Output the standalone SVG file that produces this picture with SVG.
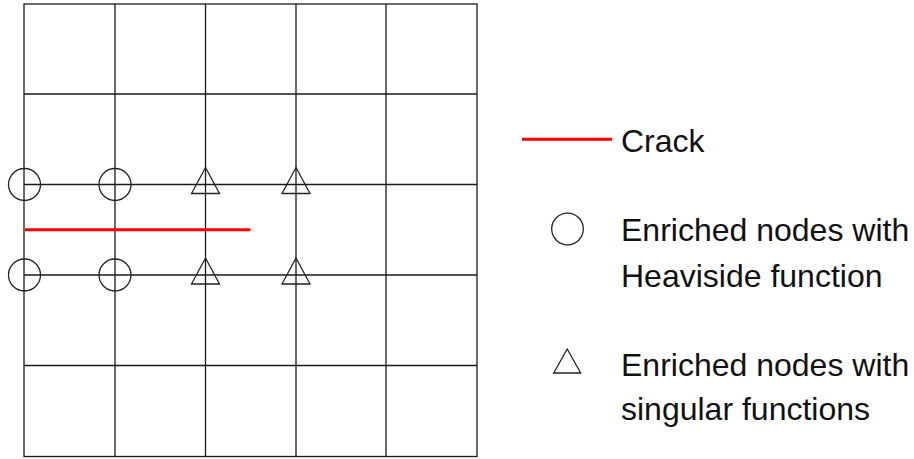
<svg xmlns="http://www.w3.org/2000/svg" width="914" height="459" viewBox="0 0 914 459">
<style>
.g{stroke:#1a1a1a;stroke-width:1.3;fill:none}
.n{stroke:#222;stroke-width:1.3;fill:none}
.crack{stroke:#ff0000;stroke-width:3;fill:none}
.t{font-family:"Liberation Sans","DejaVu Sans",sans-serif;font-size:32px;fill:#111}
</style>
<rect width="914" height="459" fill="#ffffff"/>
<g id="mesh" class="g">
<rect x="24" y="4" width="453" height="452.5"/>
<line x1="115" y1="4" x2="115" y2="456.5"/>
<line x1="205.5" y1="4" x2="205.5" y2="456.5"/>
<line x1="296" y1="4" x2="296" y2="456.5"/>
<line x1="386" y1="4" x2="386" y2="456.5"/>
<line x1="24" y1="94" x2="477" y2="94"/>
<line x1="24" y1="184.5" x2="477" y2="184.5"/>
<line x1="24" y1="275" x2="477" y2="275"/>
<line x1="24" y1="365.5" x2="477" y2="365.5"/>
</g>
<g id="crack">
<line class="crack" x1="25" y1="229.7" x2="250.5" y2="229.7"/>
</g>
<g id="heaviside-nodes" class="n">
<circle cx="24.5" cy="184.5" r="16"/>
<circle cx="115" cy="184.5" r="16"/>
<circle cx="24.5" cy="275" r="16"/>
<circle cx="115" cy="275" r="16"/>
</g>
<g id="singular-nodes" class="n">
<polygon points="205.5,167.5 219.5,193.5 191.5,193.5"/>
<polygon points="296,167.5 310,193.5 282,193.5"/>
<polygon points="205.5,258 219.5,284 191.5,284"/>
<polygon points="296,258 310,284 282,284"/>
</g>
<g id="legend-crack">
<line class="crack" x1="522" y1="139.3" x2="612" y2="139.3"/>
<text class="t" x="621" y="151.5">Crack</text>
</g>
<g id="legend-heaviside">
<circle class="n" cx="567.5" cy="229" r="15.8"/>
<text class="t" x="621" y="241">Enriched nodes with</text>
<text class="t" x="621" y="287">Heaviside function</text>
</g>
<g id="legend-singular">
<polygon class="n" points="567.2,349 580.7,373 553.7,373"/>
<text class="t" x="621" y="376">Enriched nodes with</text>
<text class="t" x="621" y="420">singular functions</text>
</g>
</svg>
